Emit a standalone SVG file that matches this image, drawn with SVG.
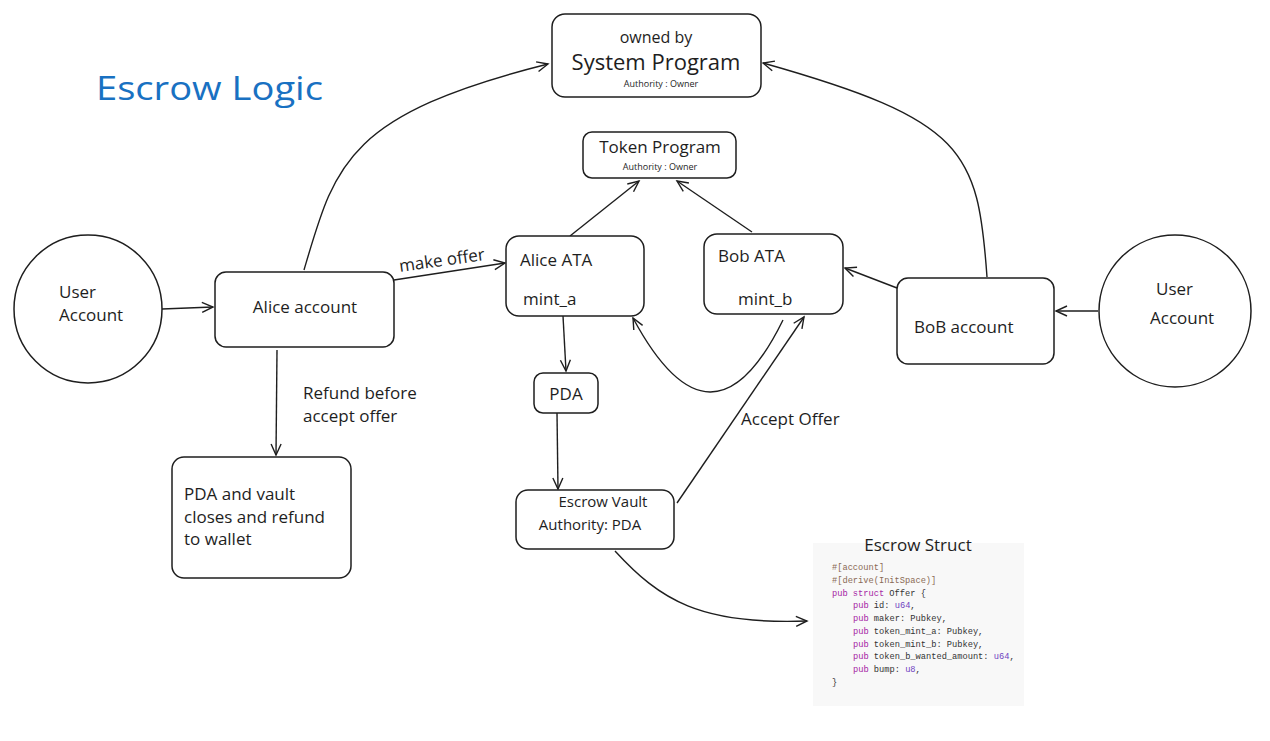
<svg xmlns="http://www.w3.org/2000/svg" width="1270" height="741" viewBox="0 0 1270 741">
<style>
.box{fill:#fff;stroke:#1e1e1e;stroke-width:1.5}
.t{font-family:"Open Sans","Liberation Sans",sans-serif;fill:#1e1e1e;font-size:17px}
.c{font-family:"Open Sans","Liberation Sans",sans-serif;fill:#1e1e1e;text-anchor:middle}
.ln{fill:none;stroke:#1e1e1e;stroke-width:1.4;marker-end:url(#ah)}
.code{font-family:"Liberation Mono",monospace;font-size:8.7px;fill:#333}
.kw{fill:#a626a4}
.ty{fill:#6f42c1}
.at{fill:#8a6a55}
</style>
<defs>
<marker id="ah" markerUnits="userSpaceOnUse" markerWidth="14" markerHeight="14" refX="12" refY="6" orient="auto">
<path d="M1,1 L12,6 L1,11" fill="none" stroke="#1e1e1e" stroke-width="1.4"/>
</marker>
</defs>
<rect width="1270" height="741" fill="#fff"/>

<text x="96" y="100" font-family="Open Sans, Liberation Sans, sans-serif" font-size="33" fill="#1971c2" textLength="227" lengthAdjust="spacingAndGlyphs">Escrow Logic</text>

<g id="connectors">
<path class="ln" d="M162 309 L213 307"/>
<path class="ln" d="M304 270 C335 165 345 115 548 64"/>
<path class="ln" d="M394 280 L505 263"/>
<path class="ln" d="M570 236 L639 181"/>
<path class="ln" d="M752 232 L677 181"/>
<path class="ln" d="M897 288 L845 268"/>
<path class="ln" d="M1098 311 L1056 311"/>
<path class="ln" d="M987 277 C978 150 965 120 763 63"/>
<path class="ln" d="M563 316 L566 371"/>
<path class="ln" d="M557 413 L558 489"/>
<path class="ln" d="M277 350 L276 455"/>
<path class="ln" d="M783 320 Q712 465 633 318"/>
<path class="ln" d="M677 503 L804 317"/>
<path class="ln" d="M615 551 C660 600 700 625 807 621"/>
</g>

<g id="system-program">
<rect class="box" x="552" y="14" width="209" height="83" rx="13"/>
<text class="c" x="656" y="43" font-size="16">owned by</text>
<text class="c" x="656" y="70" font-size="22">System Program</text>
<text class="c" x="661" y="87" font-size="9">Authority : Owner</text>
</g>

<g id="token-program">
<rect class="box" x="583" y="132" width="153" height="46" rx="9"/>
<text class="c" x="660" y="153" font-size="17">Token Program</text>
<text class="c" x="660" y="170" font-size="9">Authority : Owner</text>
</g>

<g id="user-left">
<circle class="box" cx="88" cy="309" r="74"/>
<text class="t" x="59" y="298">User</text>
<text class="t" x="59" y="321">Account</text>
</g>

<g id="alice-account">
<rect class="box" x="215" y="272" width="179" height="75" rx="11"/>
<text class="c" x="305" y="313" font-size="17">Alice account</text>
</g>

<g id="alice-ata">
<rect class="box" x="506" y="236" width="138" height="80" rx="13"/>
<text class="t" x="520" y="266">Alice ATA</text>
<text class="t" x="523" y="305">mint_a</text>
</g>

<g id="bob-ata">
<rect class="box" x="704" y="234" width="139" height="80" rx="13"/>
<text class="t" x="718" y="262">Bob ATA</text>
<text class="t" x="738" y="305">mint_b</text>
</g>

<g id="bob-account">
<rect class="box" x="897" y="278" width="157" height="86" rx="11"/>
<text class="t" x="914" y="333">BoB account</text>
</g>

<g id="user-right">
<circle class="box" cx="1175" cy="311" r="76"/>
<text class="t" x="1156" y="295">User</text>
<text class="t" x="1150" y="324">Account</text>
</g>

<g id="pda">
<rect class="box" x="534" y="373" width="64" height="40" rx="9"/>
<text class="c" x="566" y="400" font-size="17">PDA</text>
</g>

<g id="escrow-vault">
<rect class="box" x="516" y="490" width="158" height="59" rx="12"/>
<text class="c" x="603" y="507" font-size="15">Escrow Vault</text>
<text class="c" x="590" y="530" font-size="15">Authority: PDA</text>
</g>

<g id="refund-box">
<rect class="box" x="172" y="457" width="179" height="121" rx="12"/>
<text class="t" x="184" y="500">PDA and vault</text>
<text class="t" x="184" y="523">closes and refund</text>
<text class="t" x="184" y="545">to wallet</text>
</g>

<g id="labels">
<text class="t" x="400" y="272" transform="rotate(-8 400 272)">make offer</text>
<text class="t" x="303" y="399">Refund before</text>
<text class="t" x="303" y="422">accept offer</text>
<text class="t" x="741" y="425">Accept Offer</text>
</g>

<g id="escrow-struct">
<rect x="813" y="543" width="211" height="163" fill="#f8f8f8"/>
<text class="c" x="918" y="551" font-size="17">Escrow Struct</text>
<text class="code" x="832" y="570"><tspan class="at">#[account]</tspan></text>
<text class="code" x="832" y="583"><tspan class="at">#[derive(InitSpace)]</tspan></text>
<text class="code" x="832" y="596"><tspan class="kw">pub struct</tspan> Offer {</text>
<text class="code" x="853" y="608"><tspan class="kw">pub</tspan> id: <tspan class="ty">u64</tspan>,</text>
<text class="code" x="853" y="621"><tspan class="kw">pub</tspan> maker: Pubkey,</text>
<text class="code" x="853" y="634"><tspan class="kw">pub</tspan> token_mint_a: Pubkey,</text>
<text class="code" x="853" y="647"><tspan class="kw">pub</tspan> token_mint_b: Pubkey,</text>
<text class="code" x="853" y="659"><tspan class="kw">pub</tspan> token_b_wanted_amount: <tspan class="ty">u64</tspan>,</text>
<text class="code" x="853" y="672"><tspan class="kw">pub</tspan> bump: <tspan class="ty">u8</tspan>,</text>
<text class="code" x="832" y="685">}</text>
</g>
</svg>
